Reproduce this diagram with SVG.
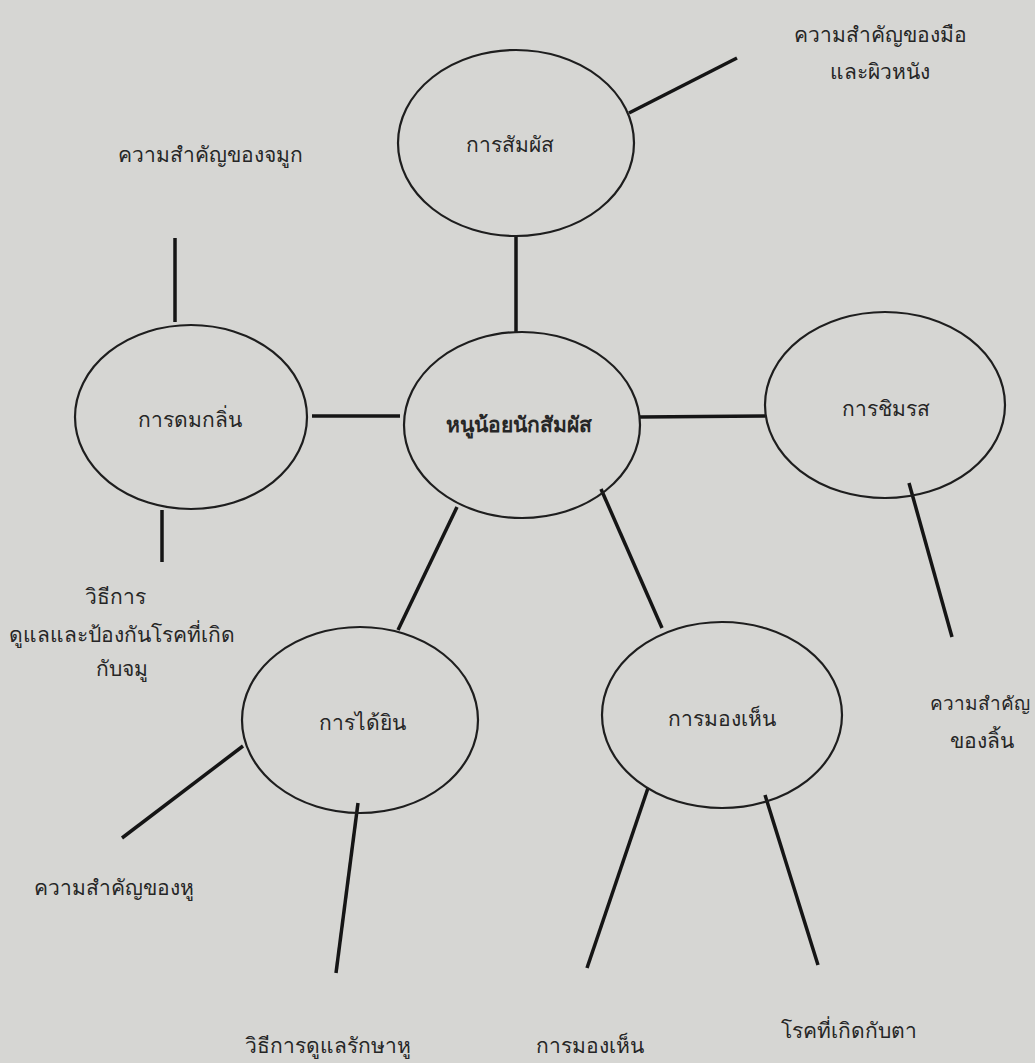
<svg xmlns="http://www.w3.org/2000/svg" width="1035" height="1063" viewBox="0 0 1035 1063">
<style>
.bg{fill:#d6d6d3}
.node ellipse{fill:none;stroke:#1e1e1e;stroke-width:2.2}
.conn line{stroke:#151515;stroke-width:3.5;stroke-linecap:butt}
text{font-family:"Noto Sans","DejaVu Sans",sans-serif;font-size:21px;fill:#262626;text-anchor:middle}
.b{font-weight:bold}
.s{font-size:19px}
</style>
<rect class="bg" x="0" y="0" width="1035" height="1063"/>
<g id="connectors" class="conn">
<line x1="516" y1="236" x2="516" y2="333"/>
<line x1="629" y1="113" x2="737" y2="58"/>
<line x1="312" y1="416" x2="400" y2="416"/>
<line x1="175" y1="238" x2="175" y2="322"/>
<line x1="162" y1="510" x2="162" y2="562"/>
<line x1="640" y1="417" x2="765" y2="416"/>
<line x1="909" y1="483" x2="952" y2="637"/>
<line x1="457" y1="507" x2="398" y2="630"/>
<line x1="601" y1="489" x2="662" y2="628"/>
<line x1="243" y1="746" x2="122" y2="838"/>
<line x1="358" y1="803" x2="336" y2="973"/>
<line x1="648" y1="788" x2="587" y2="968"/>
<line x1="765" y1="795" x2="818" y2="965"/>
</g>
<g id="center" class="node"><ellipse cx="522" cy="425" rx="118" ry="93"/><text class="b" x="519" y="432">หนูน้อยนักสัมผัส</text></g>
<g id="touch" class="node"><ellipse cx="516" cy="143" rx="118" ry="93"/><text x="510" y="152">การสัมผัส</text></g>
<g id="smell" class="node"><ellipse cx="191" cy="417" rx="116" ry="92"/><text x="190" y="427">การดมกลิ่น</text></g>
<g id="taste" class="node"><ellipse cx="885" cy="405" rx="120" ry="93"/><text x="886" y="416">การชิมรส</text></g>
<g id="hearing" class="node"><ellipse cx="360" cy="720" rx="118" ry="93"/><text x="362" y="730">การได้ยิน</text></g>
<g id="seeing" class="node"><ellipse cx="722" cy="715" rx="120" ry="93"/><text x="722" y="726">การมองเห็น</text></g>
<g id="labels">
<text x="880" y="42">ความสำคัญของมือ</text>
<text x="880" y="79">และผิวหนัง</text>
<text x="210" y="162">ความสำคัญของจมูก</text>
<text x="115" y="604">วิธีการ</text>
<text x="122" y="642">ดูแลและป้องกันโรคที่เกิด</text>
<text x="122" y="676">กับจมู</text>
<text class="s" x="980" y="710">ความสำคัญ</text>
<text x="982" y="748">ของลิ้น</text>
<text x="114" y="895">ความสำคัญของหู</text>
<text x="328" y="1053">วิธีการดูแลรักษาหู</text>
<text x="590" y="1053">การมองเห็น</text>
<text x="849" y="1038">โรคที่เกิดกับตา</text>
</g>
</svg>
